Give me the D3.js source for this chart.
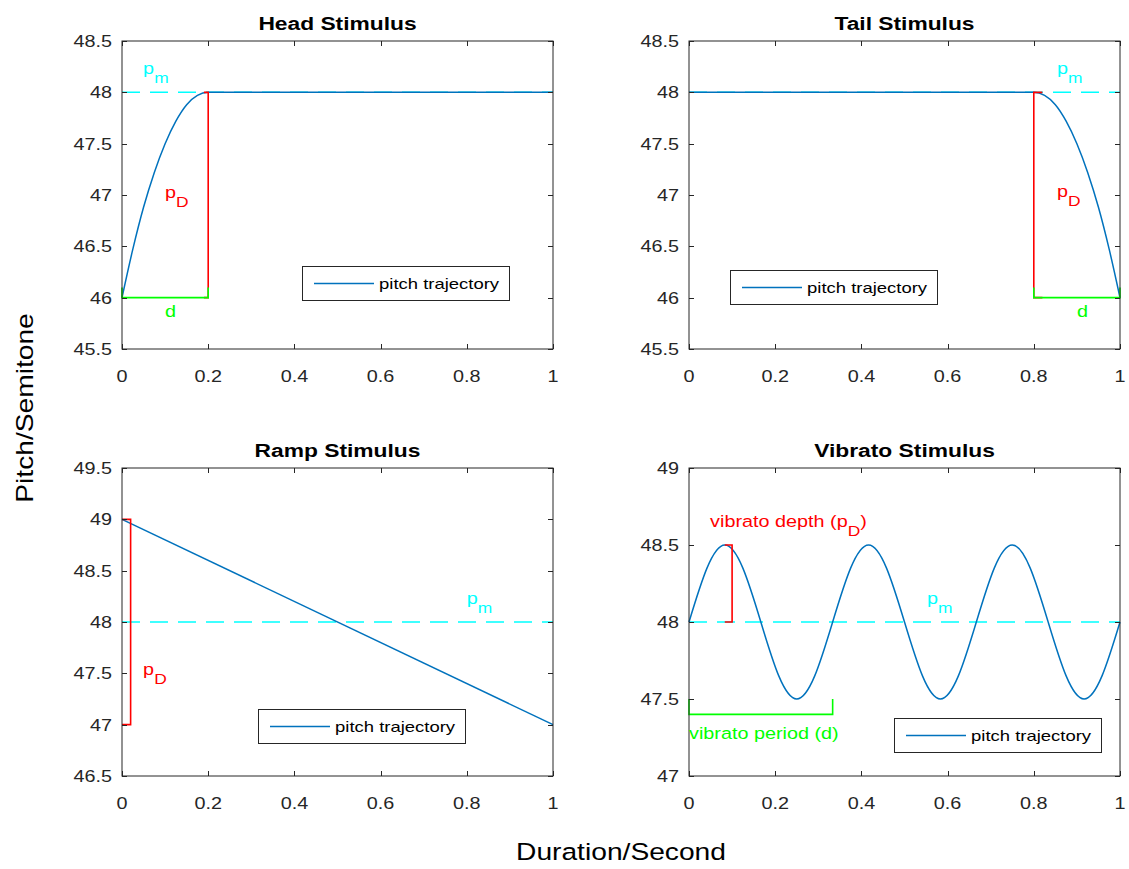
<!DOCTYPE html>
<html><head><meta charset="utf-8">
<script src="https://cdn.jsdelivr.net/npm/d3@7"></script>
<style>body{margin:0;background:#fff}svg{display:block}</style>
</head><body>
<script>
// ---------- data ----------
const xTicks = [0, 0.2, 0.4, 0.6, 0.8, 1];
const xTickLabels = ["0", "0.2", "0.4", "0.6", "0.8", "1"];
const topYTicks = [45.5, 46, 46.5, 47, 47.5, 48, 48.5];
const rampYTicks = [46.5, 47, 47.5, 48, 48.5, 49, 49.5];
const vibYTicks = [47, 47.5, 48, 48.5, 49];

const headT = [0, 0.025, 0.05, 0.075, 0.1, 0.125, 0.15, 0.175, 0.2, 1];
const headV = [46, 46.47, 46.88, 47.22, 47.5, 47.72, 47.88, 47.97, 48, 48];
const tailT = [0, 0.8, 0.825, 0.85, 0.875, 0.9, 0.925, 0.95, 0.975, 1];
const tailV = [48, 48, 47.97, 47.88, 47.72, 47.5, 47.22, 46.88, 46.47, 46];
const rampT = [0, 1];
const rampV = [49, 47];
const vibT = [0, 0.0417, 0.0833, 0.125, 0.1667, 0.2083, 0.25, 0.2917, 0.3333,
  0.375, 0.4167, 0.4583, 0.5, 0.5417, 0.5833, 0.625, 0.6667,
  0.7083, 0.75, 0.7917, 0.8333, 0.875, 0.9167, 0.9583, 1];
const vibV = [48, 48.35, 48.5, 48.35, 48, 47.65, 47.5, 47.65, 48,
  48.35, 48.5, 48.35, 48, 47.65, 47.5, 47.65, 48,
  48.35, 48.5, 48.35, 48, 47.65, 47.5, 47.65, 48];
const meanPitch = 48;

// annotation brackets (data coordinates)
const headRedX = [0.19, 0.2, 0.2, 0.19], headRedY = [48, 48, 46, 46];
const headGreenX = [0, 0, 0.2, 0.2], headGreenY = [46.1, 46, 46, 46.1];
const tailRedX = [0.82, 0.8, 0.8, 0.82], tailRedY = [48, 48, 46, 46];
const tailGreenX = [0.8, 0.8, 1, 1], tailGreenY = [46.1, 46, 46, 46.1];
const rampRedX = [0, 0.02, 0.02, 0], rampRedY = [49, 49, 47, 47];
const vibRedX = [0.083, 0.1, 0.1, 0.083], vibRedY = [48.5, 48.5, 48, 48];
const vibGreenX = [0, 0, 0.3333, 0.3333], vibGreenY = [47.5, 47.4, 47.4, 47.5];

const titles = ["Head Stimulus", "Tail Stimulus", "Ramp Stimulus", "Vibrato Stimulus"];
const legendLabel = "pitch trajectory";
const xLabel = "Duration/Second";
const yLabel = "Pitch/Semitone";

// ---------- drawing ----------
const W = 1129, H = 869;
const AX = "#262626", BLUE = "#0072BD", RED = "#ff0000", GREEN = "#00ff00", CYAN = "#00ffff";
const FONT = "'Liberation Sans', Arial, Helvetica, sans-serif";
const SX = 1.2;

const svg = d3.select("body").append("svg").attr("width", W).attr("height", H);

function txt(g, x, y, parts, o = {}) {
  const t = g.append("text")
    .attr("transform", `translate(${x},${y})` + (o.rot ? ` rotate(${o.rot})` : "") + ` scale(${SX},1)`)
    .attr("font-family", FONT)
    .attr("font-size", o.size || 16.5)
    .attr("font-weight", o.bold ? "bold" : "normal")
    .attr("fill", o.color || AX)
    .attr("text-anchor", o.anchor || "start");
  if (o.dy) t.attr("dy", o.dy);
  if (typeof parts === "string") { t.text(parts); return t; }
  let shift = 0;
  parts.forEach(p => {
    const s = t.append("tspan").text(p.t);
    if (p.sub) { s.attr("font-size", 14.5).attr("dy", 9 - shift); shift = 9; }
    else { if (shift) s.attr("dy", -shift); shift = 0; }
  });
  return t;
}

const cols = [[122, 553], [689, 1120]];
const rows = [[41, 349], [468, 776]];

const panels = [
  { col: 0, row: 0, ydom: [45.5, 48.5], yt: topYTicks, title: titles[0],
    T: headT, V: headV, mean: [0, 1],
    red: [headRedX, headRedY], green: [headGreenX, headGreenY],
    legend: [302, 266],
    labels: [
      { x: 0.049, y: 48.18, c: CYAN, parts: [{ t: "p" }, { t: "m", sub: 1 }] },
      { x: 0.1, y: 46.97, c: RED, parts: [{ t: "p" }, { t: "D", sub: 1 }] },
      { x: 0.1, y: 45.81, c: GREEN, parts: [{ t: "d" }] }
    ] },
  { col: 1, row: 0, ydom: [45.5, 48.5], yt: topYTicks, title: titles[1],
    T: tailT, V: tailV, mean: [0, 1],
    red: [tailRedX, tailRedY], green: [tailGreenX, tailGreenY],
    legend: [730, 270],
    labels: [
      { x: 0.854, y: 48.18, c: CYAN, parts: [{ t: "p" }, { t: "m", sub: 1 }] },
      { x: 0.854, y: 46.98, c: RED, parts: [{ t: "p" }, { t: "D", sub: 1 }] },
      { x: 0.9, y: 45.81, c: GREEN, parts: [{ t: "d" }] }
    ] },
  { col: 0, row: 1, ydom: [46.5, 49.5], yt: rampYTicks, title: titles[2],
    T: rampT, V: rampV, mean: [0, 1],
    red: [rampRedX, rampRedY], green: null,
    legend: [258, 709],
    labels: [
      { x: 0.8, y: 48.18, c: CYAN, parts: [{ t: "p" }, { t: "m", sub: 1 }] },
      { x: 0.049, y: 47.48, c: RED, parts: [{ t: "p" }, { t: "D", sub: 1 }] }
    ] },
  { col: 1, row: 1, ydom: [47, 49], yt: vibYTicks, title: titles[3],
    T: vibT, V: vibV, mean: [0, 1], curve: d3.curveNatural,
    red: [vibRedX, vibRedY], green: [vibGreenX, vibGreenY],
    legend: [894, 718],
    labels: [
      { x: 0.552, y: 48.12, c: CYAN, parts: [{ t: "p" }, { t: "m", sub: 1 }] },
      { x: 0.049, y: 48.62, c: RED, parts: [{ t: "vibrato depth (p" }, { t: "D", sub: 1 }, { t: ")" }] },
      { x: 0.0, y: 47.24, c: GREEN, parts: [{ t: "vibrato period (d)" }] }
    ] }
];

panels.forEach(p => {
  const [x0, x1] = cols[p.col], [y0, y1] = rows[p.row];
  const x = d3.scaleLinear().domain([0, 1]).range([x0, x1]);
  const y = d3.scaleLinear().domain(p.ydom).range([y1, y0]);
  const g = svg.append("g");

  // mean pitch dashed line
  g.append("path")
    .attr("d", d3.line().x(d => x(d)).y(() => y(meanPitch))(p.mean))
    .attr("stroke", CYAN).attr("stroke-width", 1.5).attr("fill", "none")
    .attr("stroke-dasharray", "18,10");

  // pitch trajectory
  const pts = p.T.map((t, i) => [t, p.V[i]]);
  g.append("path")
    .attr("d", d3.line().curve(p.curve || d3.curveMonotoneX).x(d => x(d[0])).y(d => y(d[1]))(pts))
    .attr("stroke", BLUE).attr("stroke-width", 1.5).attr("fill", "none");

  const bracket = (arr, col) => {
    const q = arr[0].map((v, i) => [v, arr[1][i]]);
    g.append("path").attr("d", d3.line().x(d => x(d[0])).y(d => y(d[1]))(q))
      .attr("stroke", col).attr("stroke-width", 1.6).attr("fill", "none");
  };
  bracket(p.red, RED);
  if (p.green) bracket(p.green, GREEN);

  // box + axes
  g.append("rect").attr("x", x0).attr("y", y0).attr("width", x1 - x0).attr("height", y1 - y0)
    .attr("fill", "none").attr("stroke", AX).attr("stroke-width", 1);
  const TL = 5;
  xTicks.forEach((t, i) => {
    const xx = Math.round(x(t)) + 0.5;
    g.append("line").attr("x1", xx).attr("x2", xx).attr("y1", y1).attr("y2", y1 - TL).attr("stroke", AX);
    g.append("line").attr("x1", xx).attr("x2", xx).attr("y1", y0).attr("y2", y0 + TL).attr("stroke", AX);
    txt(g, x(t), y1 + 33, xTickLabels[i], { anchor: "middle" });
  });
  p.yt.forEach(t => {
    const yy = Math.round(y(t)) + 0.5;
    g.append("line").attr("x1", x0).attr("x2", x0 + TL).attr("y1", yy).attr("y2", yy).attr("stroke", AX);
    g.append("line").attr("x1", x1).attr("x2", x1 - TL).attr("y1", yy).attr("y2", yy).attr("stroke", AX);
    txt(g, x0 - 10, y(t), d3.format("")(t), { anchor: "end", dy: "0.36em" });
  });

  // title
  txt(g, (x0 + x1) / 2, y0 - 11, p.title, { anchor: "middle", bold: true, size: 19, color: "#000" });

  // annotations
  p.labels.forEach(l => {
    txt(g, x(l.x), y(l.y), l.parts, { color: l.c });
  });

  // legend
  const [lx, ly] = p.legend, lw = 207, lh = 34;
  g.append("rect").attr("x", lx + 0.5).attr("y", ly + 0.5).attr("width", lw).attr("height", lh)
    .attr("fill", "#fff").attr("stroke", AX).attr("stroke-width", 1);
  g.append("line").attr("x1", lx + 12).attr("x2", lx + 72).attr("y1", ly + lh / 2 + 0.5).attr("y2", ly + lh / 2 + 0.5)
    .attr("stroke", BLUE).attr("stroke-width", 1.5);
  txt(g, lx + 77, ly + lh / 2 + 0.5, legendLabel, { size: 15.4, dy: "0.36em", color: "#000" });
});

// shared axis labels
txt(svg, 621, 860, xLabel, { anchor: "middle", size: 23.5, color: "#000" });
txt(svg, 33, 408, yLabel, { anchor: "middle", size: 23.5, rot: -90, color: "#000" });
</script>
</body></html>
